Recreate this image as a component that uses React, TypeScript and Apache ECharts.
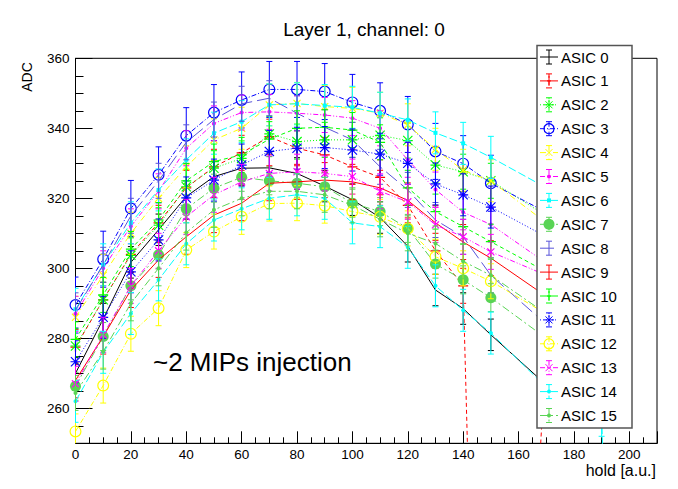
import React, { useEffect, useRef } from 'react';
import * as echarts from 'echarts';

// hold values [a.u.]
const holdValues = [0, 10, 20, 30, 40, 50, 60, 70, 80, 90, 100, 110, 120, 130, 140, 150, 170, 190, 200];

const asicNames = ['ASIC 0', 'ASIC 1', 'ASIC 2', 'ASIC 3', 'ASIC 4', 'ASIC 5', 'ASIC 6', 'ASIC 7',
  'ASIC 8', 'ASIC 9', 'ASIC 10', 'ASIC 11', 'ASIC 12', 'ASIC 13', 'ASIC 14', 'ASIC 15'];

// ADC values per ASIC (null = no point)
const asic0 = [270, 285.5, 301.7, 311, 320.5, 326.2, 328.6, 328.7, 327.1, 323.5, 319.6, 314.5, 306.3, 293.8, 288.5, 281, 266.7, 260, null];
const asic1 = [277.5, 291, 304, 313, 323, 329, 333, 337.6, 334.3, 332.4, 329, 326, 318, 305, 295, 0, 277.8, 270, null];
const asic2 = [277.8, 291, 303.7, 312.3, 323.3, 328.6, 331.4, 338.4, 336.2, 336.7, 336.7, 338, 336.5, 329.5, 327.6, 325, 315, 306, null];
const asic3 = [289.5, 302.6, 317.1, 326.7, 337.9, 344.5, 348.1, 351.1, 351.1, 350.5, 347.4, 345, 341.1, 333.4, 329.9, 324.3, 316, 307, null];
const asic4 = [286, 298, 310, 320, 329, 336.7, 340, 346.7, 347.1, 346.2, 345.7, 344.3, 341, 334, 328, 325, 313, 303, null];
const asic5 = [287, 300, 312, 322, 334.3, 341.4, 344.5, 344.7, 344.3, 343.8, 342.9, 340, 331, 322.5, 316, 312.5, 301.5, 292, null];
const asic6 = [288.3, 301, 313, 322.4, 331, 338.6, 341.9, 346.7, 347, 346.5, 346, 344.3, 342.4, 338.7, 335.7, 331.7, 323, 314, null];
const asic7 = [266.3, 280.5, 295, 303.8, 317, 322.9, 326, 325, 324.3, 323.3, 318.6, 316.2, 311.4, 301.2, 296.7, 291.6, 280, 270, null];
const asic8 = [288, 301, 315, 325, 336, 342.5, 347, 348.6, 344.3, 340.3, 336.7, 329, 322.4, 313.8, 309, 298, 284, 272, null];
const asic9 = [268, 280.5, 293.8, 302.4, 309, 315.2, 318.6, 324.3, 324.7, 325.2, 324.7, 323, 319.4, 313, 307.5, 302.9, 292, 284, null];
const asic10 = [279.7, 292.4, 305.5, 313.8, 325, 330.5, 332.4, 336.9, 340, 340.3, 339.5, 336, 323, 316.2, 311.9, 307.6, 299, 290, null];
const asic11 = [273.3, 286, 299, 308.1, 320.1, 325.2, 329.5, 333.4, 334.3, 334.5, 333.8, 332.6, 330, 324.1, 321, 317.5, 309, 300, null];
const asic12 = [253.4, 266.5, 281.3, 288.6, 305.2, 310.5, 314.7, 318.5, 318.6, 317.9, 316.2, 314.7, 311.4, 303.3, 300, 296.3, 287, 278, null];
const asic13 = [267, 281, 295, 305, 314.7, 321, 324.7, 327.1, 327.6, 327.1, 326.2, 322, 319, 312.4, 309, 304.7, 298, 290, null];
const asic14 = [262, 276, 287.1, 296.7, 307, 313.8, 317, 320, 321, 320, 313, 311.9, 306, 295, 288, 281.5, 266, 258, 0];
const asic15 = [264.4, 276.2, 290, 300, 310.2, 316.7, 320, 322, 322, 321, 318, 314, 310, 307.1, 302, 298, 287, 278, null];

const asicValues = [asic0, asic1, asic2, asic3, asic4, asic5, asic6, asic7, asic8, asic9, asic10, asic11, asic12, asic13, asic14, asic15];

// estimated error bar half-heights per ASIC
const asicErrors = [4.5, 5, 5, 8, 6, 5, 6, 4, 5, 5, 5, 6, 5, 5, 6, 5];

const FONT = '"Liberation Sans", Arial, sans-serif';

const colors = ['#000000', '#ff0000', '#00ff00', '#0000ff', '#ffff00', '#ff00ff', '#00ffff', '#59d454',
  '#5954d9', '#ff0000', '#00ff00', '#0000ff', '#ffff00', '#ff00ff', '#00ffff', '#59d454'];

const dashes: any[] = ['solid', [4, 3], [1, 2], [5, 2, 1, 2], [6, 3, 1, 3], [5, 2, 1, 2, 1, 2], [8, 3], [8, 3, 2, 3],
  [14, 5], 'solid', [4, 3], [1, 2], [5, 2, 1, 2], [5, 2, 1, 2, 1, 2], [8, 3], [8, 3, 2, 3]];

// marker kinds (ROOT-like)
const markerKinds = ['none', 'plus', 'star', 'ring', 'cross', 'dot', 'square', 'disc',
  'none', 'none', 'plus', 'star', 'ring', 'cross', 'dot', 'dot'];

const PLUS = 'path://M0,4.4L10,4.4L10,5.6L0,5.6Z M4.4,0L5.6,0L5.6,10L4.4,10Z';
const STAR = 'path://M0,4.4L10,4.4L10,5.6L0,5.6Z M4.4,0L5.6,0L5.6,10L4.4,10Z M0.8,0L10,9.2L9.2,10L0,0.8Z M9.2,0L10,0.8L0.8,10L0,9.2Z';
const RING = 'path://M0,5A5,5,0,1,1,10,5A5,5,0,1,1,0,5Z M1,5A4,4,0,1,0,9,5A4,4,0,1,0,1,5Z';

function symbolFor(kind: string): [string, number, number] {
  switch (kind) {
    case 'plus': return [PLUS, 10, 0];
    case 'cross': return [PLUS, 10, 45];
    case 'star': return [STAR, 10, 0];
    case 'ring': return [RING, 12, 0];
    case 'dot': return ['circle', 4, 0];
    case 'square': return ['rect', 4, 0];
    case 'disc': return ['circle', 11, 0];
    default: return ['none', 0, 0];
  }
}

function legendMarker(kind: string, cx: number, cy: number, c: string, z: number): any[] {
  const s = { stroke: c, lineWidth: 1 };
  const ln = (x1: number, y1: number, x2: number, y2: number) => ({ type: 'line', z, shape: { x1, y1, x2, y2 }, style: s });
  switch (kind) {
    case 'plus': return [ln(cx - 5, cy, cx + 5, cy), ln(cx, cy - 5, cx, cy + 5)];
    case 'cross': return [ln(cx - 3.5, cy - 3.5, cx + 3.5, cy + 3.5), ln(cx - 3.5, cy + 3.5, cx + 3.5, cy - 3.5)];
    case 'star': return [ln(cx - 5, cy, cx + 5, cy), ln(cx, cy - 5, cx, cy + 5),
      ln(cx - 3.5, cy - 3.5, cx + 3.5, cy + 3.5), ln(cx - 3.5, cy + 3.5, cx + 3.5, cy - 3.5)];
    case 'ring': return [{ type: 'circle', z, shape: { cx, cy, r: 5 }, style: { fill: 'none', stroke: c, lineWidth: 1.2 } }];
    case 'dot': return [{ type: 'circle', z, shape: { cx, cy, r: 2 }, style: { fill: c } }];
    case 'square': return [{ type: 'rect', z, shape: { x: cx - 2, y: cy - 2, width: 4, height: 4 }, style: { fill: c } }];
    case 'disc': return [{ type: 'circle', z, shape: { cx, cy, r: 5.5 }, style: { fill: c } }];
    default: return [];
  }
}

function buildLegend(): any[] {
  const z = 100;
  const els: any[] = [{
    type: 'rect', z, shape: { x: 537, y: 45.5, width: 95, height: 382.5 },
    style: { fill: '#fff', stroke: '#555', lineWidth: 1.5 },
  }];
  asicNames.forEach((name, i) => {
    const cy = 57 + i * 23.9;
    const c = colors[i];
    const dash = dashes[i] === 'solid' ? null : dashes[i];
    const ls = { stroke: c, lineWidth: 1, lineDash: dash };
    const cx = 549;
    els.push({ type: 'line', z: z + 1, shape: { x1: 540, y1: cy, x2: 558, y2: cy }, style: ls });
    els.push({ type: 'line', z: z + 1, shape: { x1: cx, y1: cy - 7, x2: cx, y2: cy + 7 }, style: ls });
    els.push({ type: 'line', z: z + 1, shape: { x1: cx - 3, y1: cy - 7, x2: cx + 3, y2: cy - 7 }, style: { stroke: c, lineWidth: 1 } });
    els.push({ type: 'line', z: z + 1, shape: { x1: cx - 3, y1: cy + 7, x2: cx + 3, y2: cy + 7 }, style: { stroke: c, lineWidth: 1 } });
    legendMarker(markerKinds[i], cx, cy, c, z + 2).forEach((e) => els.push(e));
    els.push({
      type: 'text', z: z + 2, x: 561, y: cy,
      style: { text: name, fontFamily: FONT, fontSize: 15, fill: '#000', align: 'left', verticalAlign: 'middle' },
    });
  });
  return els;
}

function buildOption() {
  const series: any[] = [];
  asicNames.forEach((name, i) => {
    const pts: number[][] = [];
    holdValues.forEach((x, k) => {
      const v = asicValues[i][k];
      if (v !== null && v !== undefined) pts.push([x, v as number]);
    });
    const color = colors[i];
    const [sym, size, rot] = symbolFor(markerKinds[i]);
    series.push({
      type: 'line',
      name,
      data: pts,
      xAxisIndex: 0,
      yAxisIndex: 0,
      symbol: sym,
      symbolSize: size,
      symbolRotate: rot,
      showSymbol: sym !== 'none',
      clip: true,
      silent: true,
      z: 2 + i * 0.01,
      itemStyle: { color },
      lineStyle: { color, width: 1, type: dashes[i] },
      emphasis: { disabled: true },
    });
    series.push({
      type: 'custom',
      name: name + ' err',
      xAxisIndex: 0,
      yAxisIndex: 0,
      clip: true,
      silent: true,
      z: 2 + i * 0.01,
      data: pts.map((p) => [p[0], p[1], asicErrors[i]]),
      encode: { x: 0, y: 1 },
      renderItem: (params: any, api: any) => {
        const x = api.value(0);
        const y = api.value(1);
        const e = api.value(2);
        const top = api.coord([x, y + e]);
        const bot = api.coord([x, y - e]);
        const cap = 3;
        const style = { stroke: color, lineWidth: 1 };
        return {
          type: 'group',
          children: [
            { type: 'line', shape: { x1: top[0], y1: top[1], x2: bot[0], y2: bot[1] }, style },
            { type: 'line', shape: { x1: top[0] - cap, y1: top[1], x2: top[0] + cap, y2: top[1] }, style },
            { type: 'line', shape: { x1: bot[0] - cap, y1: bot[1], x2: bot[0] + cap, y2: bot[1] }, style },
          ],
        };
      },
    });
  });

  const black = { color: '#000', width: 1 };

  return {
    animation: false,
    backgroundColor: '#fff',
    grid: {
      left: 75.5, right: 21, top: 58.3, bottom: 45.7,
      show: true, borderColor: '#000', borderWidth: 1, backgroundColor: 'transparent',
    },
    xAxis: [
      {
        type: 'value', min: 0, max: 210, interval: 5,
        axisLine: { show: true, onZero: false, lineStyle: black },
        axisTick: { show: true, inside: true, length: 6, lineStyle: black },
        minorTick: { show: false },
        splitLine: { show: false },
        axisLabel: {
          color: '#000', fontFamily: FONT, fontSize: 13.5, margin: 4,
          formatter: (v: number) => (v % 20 === 0 && v <= 200 ? String(v) : ''),
        },
      },
      {
        type: 'value', min: 0, max: 210, interval: 20, position: 'bottom',
        axisLine: { show: false },
        axisTick: { show: true, inside: true, length: 12, lineStyle: black },
        splitLine: { show: false },
        axisLabel: { show: false },
      },
    ],
    yAxis: [
      {
        type: 'value', min: 250, max: 360, interval: 5,
        axisLine: { show: true, onZero: false, lineStyle: black },
        axisTick: { show: true, inside: true, length: 8, lineStyle: black },
        splitLine: { show: false },
        axisLabel: {
          color: '#000', fontFamily: FONT, fontSize: 13.5, margin: 6,
          formatter: (v: number) => (v % 20 === 0 ? String(v) : ''),
        },
      },
      {
        type: 'value', min: 250, max: 360, splitNumber: 5, position: 'left', offset: 0,
        axisLine: { show: false },
        axisTick: { show: true, inside: true, length: 17, lineStyle: black },
        splitLine: { show: false },
        axisLabel: { show: false },
      },
    ],
    graphic: [
      {
        type: 'text', x: 364, y: 29, z: 10,
        style: { text: 'Layer 1, channel: 0', fontFamily: FONT, fontSize: 19, fill: '#000', align: 'center', verticalAlign: 'middle' },
      },
      {
        type: 'text', x: 27, y: 77, rotation: Math.PI / 2, z: 10,
        style: { text: 'ADC', fontFamily: FONT, fontSize: 14, fill: '#000', align: 'center', verticalAlign: 'middle' },
      },
      {
        type: 'text', x: 656, y: 470.5, z: 10,
        style: { text: 'hold [a.u.]', fontFamily: FONT, fontSize: 16, fill: '#000', align: 'right', verticalAlign: 'middle' },
      },
      {
        type: 'text', x: 153, y: 362, z: 10,
        style: { text: '~2 MIPs injection', fontFamily: FONT, fontSize: 26, fill: '#000', align: 'left', verticalAlign: 'middle' },
      },
      ...buildLegend(),
    ],
    series,
  };
}

export default function App() {
  const ref = useRef<HTMLDivElement>(null);
  useEffect(() => {
    if (!ref.current) return;
    const chart = echarts.init(ref.current, null, { renderer: 'svg' });
    chart.setOption(buildOption() as any);
    return () => chart.dispose();
  }, []);
  return (
    <div
      ref={ref}
      style={{ position: 'fixed', left: 0, top: 0, width: 678, height: 489, background: '#fff' }}
    />
  );
}
